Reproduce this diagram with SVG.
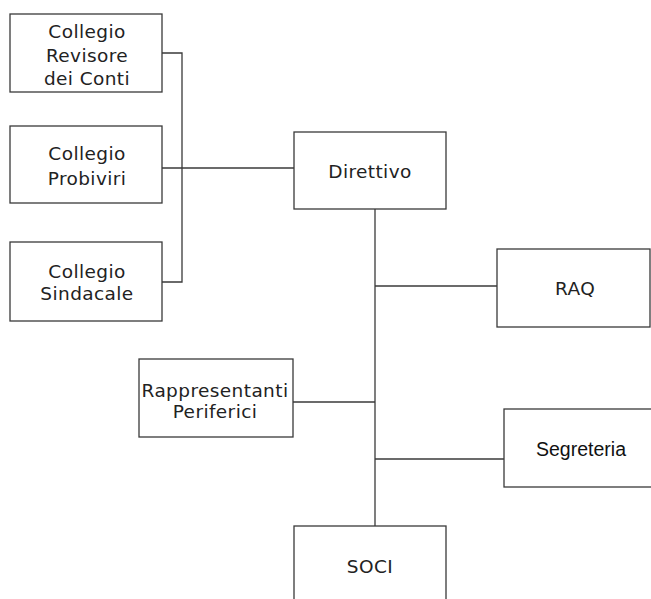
<svg xmlns="http://www.w3.org/2000/svg" width="651" height="599" viewBox="0 0 651 599">
  <style>
    .box { fill: #ffffff; stroke: #3a3a3a; stroke-width: 1.3; }
    .lbl { font-family: "DejaVu Sans", "Liberation Sans", sans-serif; font-size: 18.5px; letter-spacing: 0.4px; fill: #222; text-anchor: middle; }
    .arial { font-family: "Liberation Sans", Arial, sans-serif; font-size: 19.5px; fill: #111; text-anchor: middle; }
    .wire { fill: none; stroke: #3a3a3a; stroke-width: 1.3; }
  </style>
  <rect width="651" height="599" fill="#ffffff"/>

  <g id="connectors">
    <!-- bracket joining the three committees -->
    <polyline class="wire" points="162,53 182,53 182,282 162,282"/>
    <line class="wire" x1="158" y1="168" x2="294" y2="168"/>
    <!-- trunk below Direttivo -->
    <line class="wire" x1="375" y1="209" x2="375" y2="526"/>
    <line class="wire" x1="375" y1="286" x2="497" y2="286"/>
    <line class="wire" x1="293" y1="402" x2="375" y2="402"/>
    <line class="wire" x1="375" y1="459" x2="504" y2="459"/>
  </g>

  <g id="revisore">
    <rect class="box" x="10" y="14" width="152" height="78"/>
    <text class="lbl" x="87" y="38">Collegio</text>
    <text class="lbl" x="87" y="62">Revisore</text>
    <text class="lbl" x="87" y="85">dei Conti</text>
  </g>

  <g id="probiviri">
    <rect class="box" x="10" y="126" width="152" height="77"/>
    <text class="lbl" x="87" y="160">Collegio</text>
    <text class="lbl" x="87" y="185">Probiviri</text>
  </g>

  <g id="sindacale">
    <rect class="box" x="10" y="242" width="152" height="79"/>
    <text class="lbl" x="87" y="278">Collegio</text>
    <text class="lbl" x="87" y="300">Sindacale</text>
  </g>

  <g id="direttivo">
    <rect class="box" x="294" y="132" width="152" height="77"/>
    <text class="lbl" x="370" y="178">Direttivo</text>
  </g>

  <g id="raq">
    <rect class="box" x="497" y="249" width="153" height="78"/>
    <text class="lbl" x="575" y="295">RAQ</text>
  </g>

  <g id="rappresentanti">
    <rect class="box" x="139" y="359" width="154" height="78"/>
    <text class="lbl" x="215" y="397">Rappresentanti</text>
    <text class="lbl" x="215" y="418">Periferici</text>
  </g>

  <g id="segreteria">
    <rect class="box" x="504" y="409" width="152" height="78"/>
    <text class="arial" x="581" y="456">Segreteria</text>
  </g>

  <g id="soci">
    <rect class="box" x="294" y="526" width="152" height="80"/>
    <text class="lbl" x="370" y="573">SOCI</text>
  </g>
</svg>
